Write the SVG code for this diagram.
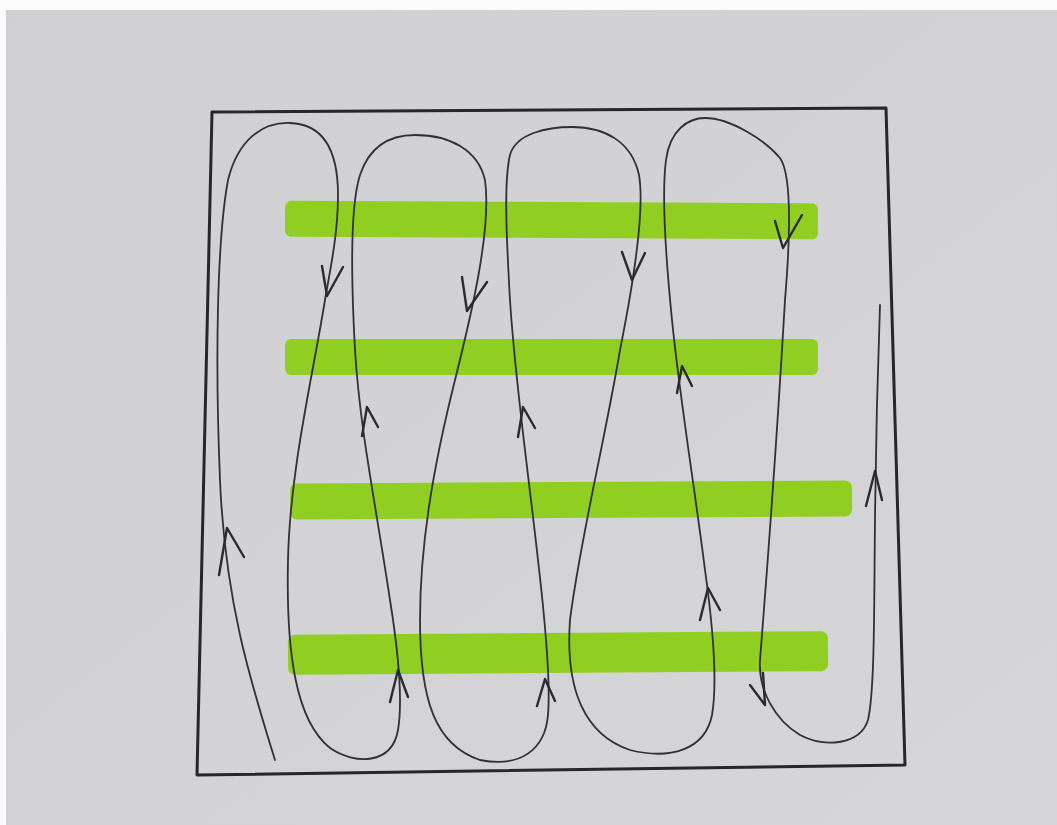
<svg xmlns="http://www.w3.org/2000/svg" width="1057" height="825" viewBox="0 0 1057 825">
<defs>
<style>
.frame{fill:none;stroke:#26262b;stroke-width:3;stroke-linejoin:round}
.bar{fill:#90cf22}
.line{fill:none;stroke:#303036;stroke-width:1.8;stroke-linecap:round;stroke-linejoin:round}
.arr{fill:none;stroke:#2a2a30;stroke-width:2.4;stroke-linecap:round;stroke-linejoin:round}
</style>
<linearGradient id="bg" x1="0" y1="0" x2="1" y2="1">
<stop offset="0" stop-color="#d0d0d3"/>
<stop offset="1" stop-color="#d6d6d8"/>
</linearGradient>
</defs>
<rect width="1057" height="825" fill="#fbfbfb"/>
<rect x="6" y="10" width="1051" height="815" fill="url(#bg)"/>
<g id="frame">
<path class="frame" d="M212,112 L886,108 L905,765 L197,775 Z"/>
</g>
<g id="bars">
<rect id="bar1" class="bar" x="285" y="202" width="533" height="36" rx="6" transform="rotate(0.3 550 220)"/>
<rect id="bar2" class="bar" x="285" y="339" width="533" height="36" rx="6"/>
<rect id="bar3" class="bar" x="290" y="482" width="562" height="36" rx="7" transform="rotate(-0.3 570 500)"/>
<rect id="bar4" class="bar" x="288" y="633" width="540" height="40" rx="7" transform="rotate(-0.4 560 653)"/>
</g>
<g id="connectors">
<path id="route" class="line" d="M275,760 C250,680 225,600 220,480 C215,360 217,240 228,180 C238,140 262,122 290,123 C320,124 338,145 338,195 C338,235 330,270 325,300 C312,380 290,470 288,560 C286,650 295,720 330,748 C355,765 392,765 398,730 C403,700 398,650 390,600 C375,500 360,430 355,350 C350,260 352,200 360,175 C370,145 390,135 415,135 C450,135 478,150 485,180 C492,230 470,320 455,380 C435,460 420,540 420,620 C420,700 435,745 480,760 C520,768 545,750 548,715 C551,680 545,620 538,560 C528,470 515,380 510,300 C506,230 504,180 510,155 C516,133 548,127 572,127 C605,127 632,142 639,175 C645,210 632,290 620,350 C605,440 580,540 570,620 C565,690 585,735 630,750 C670,760 705,750 712,715 C718,680 712,620 705,570 C695,490 680,400 672,320 C665,250 662,190 666,160 C670,130 688,118 705,118 C730,118 765,140 780,158 C792,175 790,240 785,300 C778,420 768,560 760,660 C758,690 775,720 800,735 C825,748 860,745 868,720 C875,690 874,600 875,520 C876,420 878,360 880,305"/>
<g id="arrowheads">
<path class="arr" d="M219,575 L227,528 L244,557"/>
<path class="arr" d="M322,266 L327,296 L343,267"/>
<path class="arr" d="M362,436 L367,407 L378,427"/>
<path class="arr" d="M390,702 L398,670 L408,697"/>
<path class="arr" d="M462,277 L467,311 L487,282"/>
<path class="arr" d="M518,437 L523,407 L535,428"/>
<path class="arr" d="M537,706 L545,679 L555,701"/>
<path class="arr" d="M622,252 L632,280 L645,253"/>
<path class="arr" d="M677,393 L682,366 L692,386"/>
<path class="arr" d="M775,221 L783,248 L802,215"/>
<path class="arr" d="M700,620 L708,588 L720,610"/>
<path class="arr" d="M750,685 L765,705 L763,673"/>
<path class="arr" d="M866,506 L875,471 L882,500"/>
</g>
</g>
</svg>
